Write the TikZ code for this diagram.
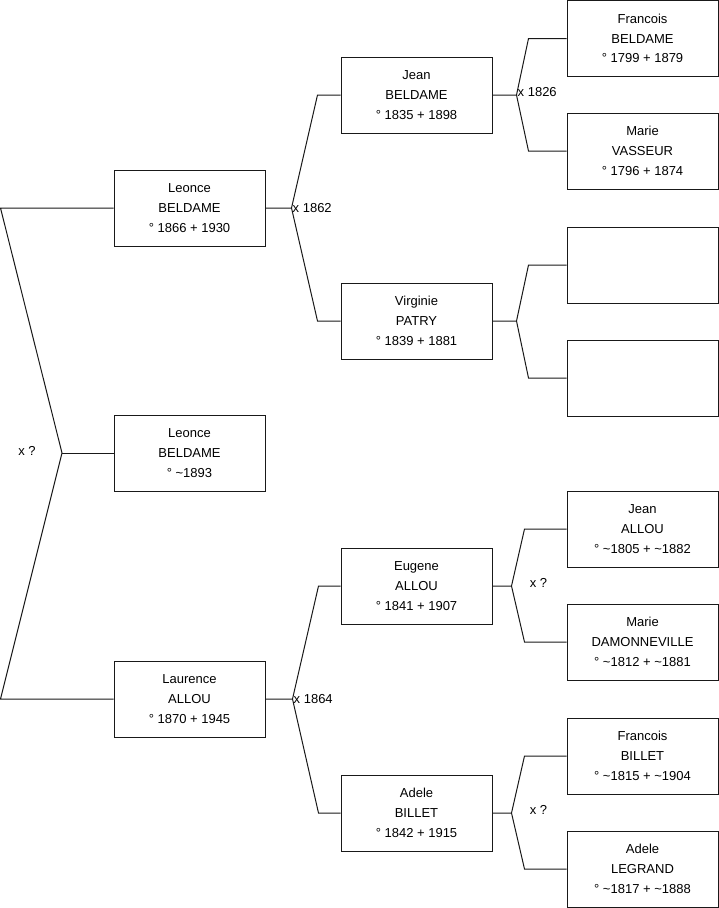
\documentclass[tikz,border=0pt]{standalone}
\usepackage{fontspec}
\setmainfont{Liberation Sans}

\tikzset{
  person/.style={draw=black!90, line width=1pt, minimum width=151pt, minimum height=76pt,
    inner sep=0pt, align=center, font=\fontsize{13}{19.7}\selectfont},
  link/.style={draw=black!90, line width=1pt},
  wed/.style={font=\fontsize{13}{15}\selectfont, inner sep=1pt},
}

\begin{document}
\begin{tikzpicture}[x=1pt, y=-1pt]
    \useasboundingbox (0,0) rectangle (719,908);

    % children
    \node[person] (leonce) at (189.5,208) {Leonce\\BELDAME\\° 1866 + 1930};
    \node[person] (leonceb) at (189.5,453) {Leonce\\BELDAME\\° \textasciitilde1893};
    \node[person] (laurence) at (189.5,699) {Laurence\\ALLOU\\° 1870 + 1945};

    % parents
    \node[person] (jean) at (416.5,95) {Jean\\BELDAME\\° 1835 + 1898};
    \node[person] (virginie) at (416.5,321) {Virginie\\PATRY\\° 1839 + 1881};
    \node[person] (eugene) at (416.5,586) {Eugene\\ALLOU\\° 1841 + 1907};
    \node[person] (adele) at (416.5,813) {Adele\\BILLET\\° 1842 + 1915};

    % grandparents
    \node[person] (francois) at (642.5,38.5) {Francois\\BELDAME\\° 1799 + 1879};
    \node[person] (marie) at (642.5,151) {Marie\\VASSEUR\\° 1796 + 1874};
    \node[person] (empty1) at (642.5,265) {};
    \node[person] (empty2) at (642.5,378) {};
    \node[person] (jeana) at (642.5,529) {Jean\\ALLOU\\° \textasciitilde1805 + \textasciitilde1882};
    \node[person] (maried) at (642.5,642) {Marie\\DAMONNEVILLE\\° \textasciitilde1812 + \textasciitilde1881};
    \node[person] (francoisb) at (642.5,756) {Francois\\BILLET\\° \textasciitilde1815 + \textasciitilde1904};
    \node[person] (adelel) at (642.5,869) {Adele\\LEGRAND\\° \textasciitilde1817 + \textasciitilde1888};

    % root fork
    \coordinate (f0) at (62,453);
    \draw[link] (leonce.west) -- ++(-113,0) -- (f0) -- ([xshift=-113pt]laurence.west) -- (laurence.west);
    \draw[link] (f0) -- (leonceb.west);
    \node[wed] (w0) at (27,451) {x ?};

    % Leonce
    \draw[link] (leonce.east) -- ++(26,0) coordinate (f1) -- ([xshift=-23pt]jean.west) -- (jean.west);
    \draw[link] (f1) -- ([xshift=-23pt]virginie.west) -- (virginie.west);
    \node[wed, anchor=west] (w1) at (f1) {x 1862};

    % Jean
    \draw[link] (jean.east) -- ++(24,0) coordinate (f2) -- ([xshift=-38pt]francois.west) -- (francois.west);
    \draw[link] (f2) -- ([xshift=-38pt]marie.west) -- (marie.west);
    \node[wed, anchor=west] (w2) at ([yshift=3pt]f2) {x 1826};

    % Virginie
    \draw[link] (virginie.east) -- ++(24,0) coordinate (f3) -- ([xshift=-38pt]empty1.west) -- (empty1.west);
    \draw[link] (f3) -- ([xshift=-38pt]empty2.west) -- (empty2.west);

    % Laurence
    \draw[link] (laurence.east) -- ++(27,0) coordinate (f4) -- ([xshift=-22pt]eugene.west) -- (eugene.west);
    \draw[link] (f4) -- ([xshift=-22pt]adele.west) -- (adele.west);
    \node[wed, anchor=west] (w4) at (f4) {x 1864};

    % Eugene
    \draw[link] (eugene.east) -- ++(19,0) coordinate (f5) -- ([xshift=-42pt]jeana.west) -- (jeana.west);
    \draw[link] (f5) -- ([xshift=-42pt]maried.west) -- (maried.west);
    \node[wed] (w5) at ([xshift=27pt, yshift=3pt]f5) {x ?};

    % Adele
    \draw[link] (adele.east) -- ++(19,0) coordinate (f6) -- ([xshift=-42pt]francoisb.west) -- (francoisb.west);
    \draw[link] (f6) -- ([xshift=-42pt]adelel.west) -- (adelel.west);
    \node[wed] (w6) at ([xshift=27pt, yshift=3pt]f6) {x ?};
\end{tikzpicture}
\end{document}
